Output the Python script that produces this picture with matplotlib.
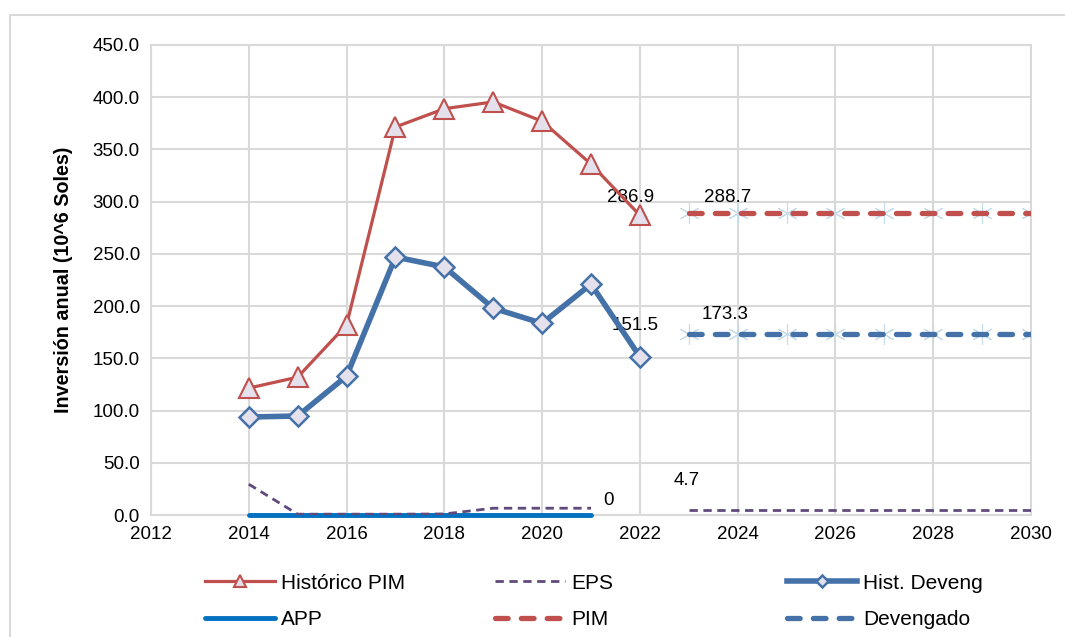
import numpy as np
import matplotlib
matplotlib.use('Agg')
import matplotlib.pyplot as plt
from matplotlib.patches import Rectangle

plt.rcParams['font.family'] = ['Liberation Sans', 'DejaVu Sans']

# Datos
anios_hist = [2014, 2015, 2016, 2017, 2018, 2019, 2020, 2021, 2022]
hist_pim = [121.5, 132.0, 182.0, 371.5, 389.0, 395.5, 377.0, 336.0, 286.9]
hist_deveng = [93.8, 94.8, 133.0, 247.0, 237.5, 198.0, 183.5, 221.0, 151.5]
anios_eps = [2014, 2015, 2016, 2017, 2018, 2019, 2020, 2021]
eps = [29.5, 0.8, 0.8, 0.8, 1.0, 6.5, 6.5, 6.5]
app = [0, 0, 0, 0, 0, 0, 0, 0]
anios_proy = [2023, 2024, 2025, 2026, 2027, 2028, 2029, 2030]
pim = [288.7] * 8
devengado = [173.3] * 8
eps_proy = [4.7] * 8

rojo = '#C0504D'
azul = '#4472A8'
morado = '#604A7B'
azul_app = '#0070C0'
relleno = '#E4E1EC'
marca = '#C5DCEA'

fig = plt.figure(figsize=(10.65, 6.37), dpi=100)
fig.patches.append(Rectangle((10/1065, -0.1), 1.2, 1 - 15/637 + 0.1, transform=fig.transFigure,
                             fill=False, edgecolor='#D9D9D9', linewidth=1.5))
ax = fig.add_axes([151/1065, 1 - 515/637, (1031-151)/1065, (515-45)/637])

# marcas de proyeccion (detras de la linea)
ax.plot(anios_proy, pim, ls='none', marker=(6, 2, 0), ms=15, mec=marca, mew=0.8, zorder=2)
ax.plot(anios_proy, devengado, ls='none', marker=(6, 2, 0), ms=15, mec=marca, mew=0.8, zorder=2)

l_pim, = ax.plot(anios_hist, hist_pim, color=rojo, lw=2.3, marker='^', ms=14,
                 mfc=relleno, mec=rojo, mew=1.5, label='Histórico PIM', zorder=4)
l_dev, = ax.plot(anios_hist, hist_deveng, color=azul, lw=4, marker='D', ms=10.5,
                 mfc=relleno, mec=azul, mew=1.8, label='Hist. Deveng', zorder=4)
l_app, = ax.plot(anios_eps, app, color=azul_app, lw=3.5, label='APP', zorder=3,
                 solid_capstyle='round', clip_on=False)
l_eps, = ax.plot(anios_eps, eps, color=morado, lw=2, ls=(0, (3, 2)), label='EPS', zorder=3)
ax.plot(anios_proy, eps_proy, color=morado, lw=2, ls=(0, (3, 2)), zorder=3)
l_ppim, = ax.plot(anios_proy, pim, color=rojo, lw=3.8, ls=(0, (2.4, 2.5)), label='PIM',
                  zorder=3, dash_capstyle='round')
l_pdev, = ax.plot(anios_proy, devengado, color=azul, lw=3.8, ls=(0, (2.4, 2.5)), label='Devengado',
                  zorder=3, dash_capstyle='round')

fs = 13.5
ax.text(2021.8, 296, '286.9', fontsize=fs, ha='center', va='bottom')
ax.text(2023.8, 296, '288.7', fontsize=fs, ha='center', va='bottom')
ax.text(2021.9, 181, '151.5', fontsize=fs, ha='center', va='center')
ax.text(2023.75, 192, '173.3', fontsize=fs, ha='center', va='center')
ax.text(2021.35, 14, '0', fontsize=fs, ha='center', va='center')
ax.text(2022.95, 33, '4.7', fontsize=fs, ha='center', va='center')

ax.set_xlim(2012, 2030)
ax.set_ylim(0, 450)
ax.set_xticks(np.arange(2012, 2031, 2))
ax.set_yticks(np.arange(0, 451, 50))
ax.set_yticklabels(['%.1f' % v for v in np.arange(0, 451, 50)])
ax.tick_params(labelsize=fs, length=0, pad=8)
ax.grid(True, color='#D9D9D9', lw=1.5)
ax.set_axisbelow(True)
for s in ax.spines.values():
    s.set_color('#D9D9D9')
    s.set_linewidth(1.5)
ax.set_ylabel('Inversión anual (10^6 Soles)', fontsize=14.2, fontweight='bold', labelpad=14)

# leyenda en tres columnas
fl = 15
columnas = [([l_pim, l_app], 205), ([l_eps, l_ppim], 495), ([l_dev, l_pdev], 787)]
for hs, x0 in columnas:
    leg = fig.legend(handles=hs, labels=[h.get_label() for h in hs], loc='center left',
                     bbox_to_anchor=(x0/1065, 1 - 601.5/637), frameon=False, fontsize=fl,
                     handlelength=3.35, labelspacing=0.85, handletextpad=0.3,
                     borderaxespad=0, borderpad=0, markerscale=0.6)

fig.savefig('out.png', dpi=100)
